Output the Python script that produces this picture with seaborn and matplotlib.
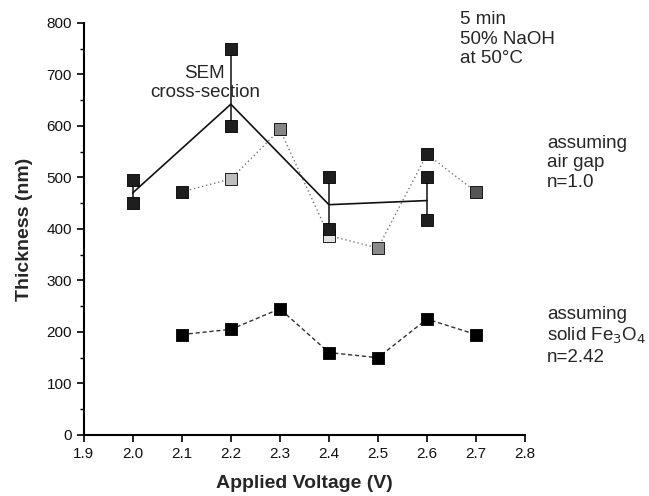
import matplotlib
matplotlib.use("Agg")
import matplotlib.pyplot as plt
import seaborn as sns
import pandas as pd
from matplotlib.ticker import MultipleLocator

# ---- data ----
sem_v = [2.0, 2.2, 2.4, 2.6]
sem_mean = [470, 642, 447, 455]
sem_lo = [450, 600, 400, 417]
sem_hi = [495, 750, 500, 500]
sem_pts_v = [2.0, 2.0, 2.2, 2.2, 2.4, 2.4, 2.6, 2.6]
sem_pts = [495, 450, 750, 600, 500, 400, 500, 417]

air_v = [2.1, 2.2, 2.3, 2.4, 2.5, 2.6, 2.7]
air_t = [472, 497, 593, 387, 363, 545, 472]
air_shade = ["#1e1e1e", "#bdbdbd", "#858585", "#e2e2e2", "#8a8a8a", "#1e1e1e", "#555555"]

fe_v = [2.1, 2.2, 2.3, 2.4, 2.5, 2.6, 2.7]
fe_t = [195, 205, 245, 160, 150, 225, 195]

x_ticks = [1.9, 2.0, 2.1, 2.2, 2.3, 2.4, 2.5, 2.6, 2.7, 2.8]
y_ticks = [0, 100, 200, 300, 400, 500, 600, 700, 800]

sns.set_theme(style="ticks")
plt.rcParams['font.family'] = ['Liberation Sans', 'DejaVu Sans']

fig = plt.figure(figsize=(6.49, 4.96), dpi=100)
ax = fig.add_axes([0.129, 0.123, 0.68, 0.831])

sem_df = pd.DataFrame({"V": sem_v, "T": sem_mean})
air_df = pd.DataFrame({"V": air_v, "T": air_t})
fe_df = pd.DataFrame({"V": fe_v, "T": fe_t})

# lines
sns.lineplot(data=air_df, x="V", y="T", ax=ax, color="#777777", linestyle=(0, (1, 2)), lw=1.0, zorder=2)
sns.lineplot(data=fe_df, x="V", y="T", ax=ax, color="#333333", linestyle=(0, (3, 2)), lw=1.0, zorder=2)
sns.lineplot(data=sem_df, x="V", y="T", ax=ax, color="#111111", lw=1.2, zorder=3)
ax.vlines(sem_v, sem_lo, sem_hi, color="#111111", lw=1.1, zorder=3)

# markers
ms = 85
sns.scatterplot(x=fe_v, y=fe_t, ax=ax, marker="s", s=ms, color="black", edgecolor="black", linewidth=0.6, zorder=4)
for v, t, c in zip(air_v, air_t, air_shade):
    ax.scatter([v], [t], marker="s", s=ms, color=c, edgecolor="black", linewidths=0.6, zorder=4)
sns.scatterplot(x=sem_pts_v, y=sem_pts, ax=ax, marker="s", s=ms, color="#1e1e1e", edgecolor="black", linewidth=0.6, zorder=5)

ax.set_xlim(1.9, 2.8)
ax.set_ylim(0, 800)
ax.set_xticks(x_ticks)
ax.set_xticklabels([f"{t:.1f}" for t in x_ticks])
ax.set_yticks(y_ticks)
ax.yaxis.set_minor_locator(MultipleLocator(50))
ax.tick_params(axis="both", which="major", direction="out", length=5, width=1.2, labelsize=11, color="black", labelcolor="#111111")
ax.tick_params(axis="y", which="minor", direction="out", length=3, width=1.0, color="black")
for s in ["left", "bottom"]:
    ax.spines[s].set_linewidth(1.5)
    ax.spines[s].set_color("black")
sns.despine(ax=ax)

ax.set_xlabel("Applied Voltage (V)", fontsize=14, fontweight="bold", labelpad=10)
ax.set_ylabel("Thickness (nm)", fontsize=14, fontweight="bold", labelpad=10)

fs = 13.5
ax.text(2.147, 683, "SEM\ncross-section", fontsize=fs, ha="center", va="center", linespacing=1.15)
ax.text(2.667, 823, "5 min\n50% NaOH\nat 50°C", fontsize=fs, ha="left", va="top", linespacing=1.2, clip_on=False)
ax.text(2.845, 528, "assuming\nair gap\nn=1.0", fontsize=fs, ha="left", va="center", linespacing=1.2, clip_on=False)
ax.text(2.845, 192, "assuming\nsolid Fe$_3$O$_4$\nn=2.42", fontsize=fs, ha="left", va="center", linespacing=1.2, clip_on=False)

fig.savefig("out.png", dpi=100)
